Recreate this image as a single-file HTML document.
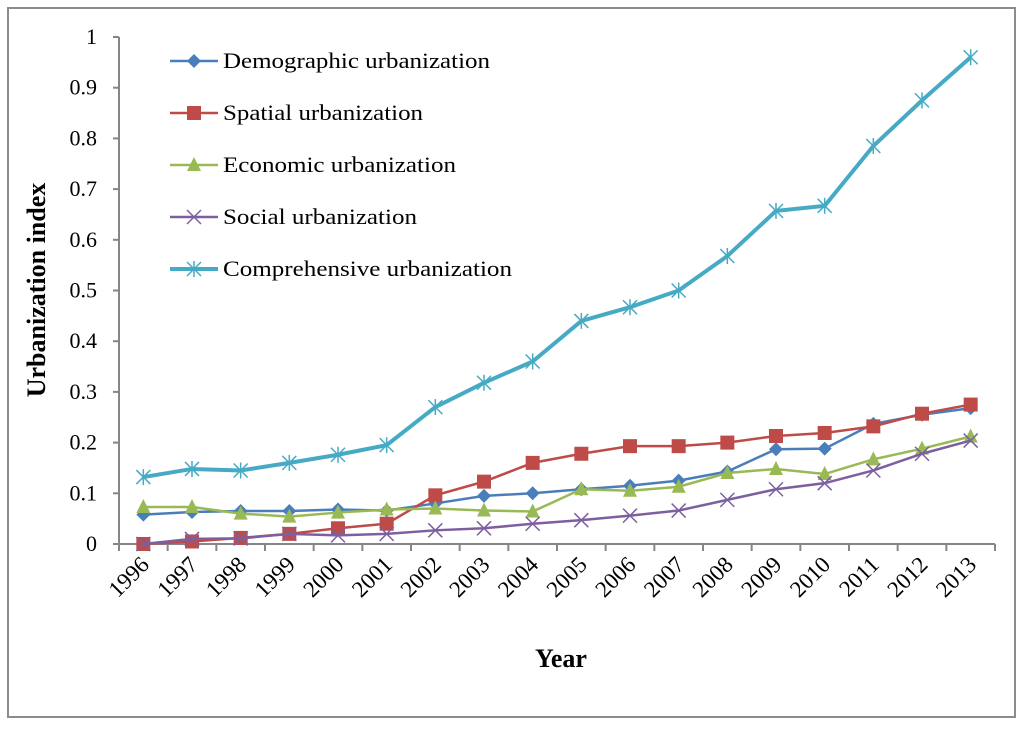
<!DOCTYPE html>
<html><head><meta charset="utf-8"><style>
body{margin:0;background:#fff}
svg text{font-family:"Liberation Serif",serif}
</style></head><body>
<svg width="1024" height="726">
<rect x="8" y="8" width="1007" height="709" fill="#fff" stroke="#8c8c8c" stroke-width="2"/>
<g id="g"></g>
</svg>
<script>
const years=["1996","1997","1998","1999","2000","2001","2002","2003","2004","2005","2006","2007","2008","2009","2010","2011","2012","2013"];
const demographic=[0.058,0.063,0.065,0.065,0.068,0.066,0.08,0.095,0.10,0.108,0.115,0.125,0.143,0.187,0.188,0.237,0.255,0.268];
const spatial=[0,0.005,0.012,0.02,0.031,0.04,0.096,0.123,0.16,0.178,0.193,0.193,0.2,0.213,0.219,0.232,0.257,0.275];
const economic=[0.073,0.073,0.06,0.054,0.062,0.068,0.07,0.066,0.064,0.108,0.105,0.113,0.14,0.148,0.138,0.167,0.188,0.212];
const social=[0,0.01,0.011,0.02,0.017,0.02,0.027,0.031,0.04,0.047,0.056,0.066,0.087,0.108,0.12,0.145,0.178,0.204];
const comprehensive=[0.132,0.148,0.145,0.16,0.176,0.195,0.27,0.318,0.36,0.44,0.467,0.5,0.568,0.657,0.667,0.785,0.875,0.96];
const yTicks=[0,0.1,0.2,0.3,0.4,0.5,0.6,0.7,0.8,0.9,1];
const yTickLabels=["0","0.1","0.2","0.3","0.4","0.5","0.6","0.7","0.8","0.9","1"];
const seriesNames=["Demographic urbanization","Spatial urbanization","Economic urbanization","Social urbanization","Comprehensive urbanization"];
const legendWidths=[267,200,233,194,289];

const NS="http://www.w3.org/2000/svg";
const g=document.getElementById('g');
const X0=119,X1=995,Y0=544,Y1=37;
const step=(X1-X0)/years.length;
const xs=i=>X0+step*(i+0.5);
const ys=v=>Y0-(Y0-Y1)*v;
function mk(t,a,txt){const e=document.createElementNS(NS,t);for(const k in a)e.setAttribute(k,a[k]);if(txt!=null)e.textContent=txt;g.appendChild(e);return e;}

let ax=mk('line',{x1:X0,y1:Y1,x2:X0,y2:Y0,stroke:'#868686','stroke-width':2});


ax=mk('line',{x1:X0,y1:Y0,x2:X1,y2:Y0,stroke:'#868686','stroke-width':2});


yTicks.forEach((v,i)=>{
  mk('line',{x1:X0-6,y1:ys(v),x2:X0,y2:ys(v),stroke:'#868686','stroke-width':2});
  const t=mk('text',{x:X0-22,y:ys(v)+7,'text-anchor':'end','font-size':22},yTickLabels[i]);
  
  
});
for(let i=0;i<=years.length;i++){const x=X0+step*i;mk('line',{x1:x,y1:Y0,x2:x,y2:Y0+7,stroke:'#868686','stroke-width':2});}
years.forEach((y,i)=>{
  const x=xs(i)+7,yy=Y0+22;
  const t=mk('text',{x:x,y:yy,'text-anchor':'end','font-size':23,transform:`rotate(-45 ${x} ${yy})`},y);
  
  
});
let tt=mk('text',{x:561,y:667,'text-anchor':'middle','font-size':26,'font-weight':'bold'},'Year');


tt=mk('text',{x:45,y:290,'text-anchor':'middle','font-size':26,'font-weight':'bold',transform:'rotate(-90 45 290)'},'Urbanization index');



function marker(type,x,y,c){
  if(type==='diamond')return mk('path',{d:`M${x} ${y-7}L${x+7} ${y}L${x} ${y+7}L${x-7} ${y}Z`,fill:c});
  if(type==='square')return mk('rect',{x:x-7,y:y-7,width:14,height:14,fill:c});
  if(type==='triangle')return mk('path',{d:`M${x} ${y-8}L${x+7} ${y+6}L${x-7} ${y+6}Z`,fill:c});
  if(type==='x')return mk('path',{d:`M${x-7} ${y-7}L${x+7} ${y+7}M${x+7} ${y-7}L${x-7} ${y+7}`,stroke:c,'stroke-width':1.5,fill:'none'});
  return mk('path',{d:`M${x-7} ${y-7}L${x+7} ${y+7}M${x+7} ${y-7}L${x-7} ${y+7}M${x} ${y-8}L${x} ${y+8}`,stroke:c,'stroke-width':1.5,fill:'none'});
}
const series=[
  [demographic,'#4a7ebb','diamond',2.5,'demographic'],
  [spatial,'#be4b48','square',2.5,'spatial'],
  [economic,'#98b954','triangle',2.5,'economic'],
  [social,'#7d5fa0','x',2.5,'social'],
  [comprehensive,'#46aac5','star',4,'comprehensive']];
series.forEach(([d,c,m,w,n])=>{
  const p=mk('polyline',{points:d.map((v,i)=>xs(i)+','+ys(v)).join(' '),fill:'none',stroke:c,'stroke-width':w});
  
  
  d.forEach((v,i)=>{const e=marker(m,xs(i),ys(v),c);
    
    });
});
series.forEach(([d,c,m,w,n],k)=>{
  const y=61+52*k;
  mk('line',{x1:170,y1:y,x2:218,y2:y,stroke:c,'stroke-width':w});
  marker(m,194,y,c);
  const t=mk('text',{x:223,y:y+7,'font-size':22,textLength:legendWidths[k],lengthAdjust:'spacingAndGlyphs'},seriesNames[k]);
  
  
});
</script>
</body></html>
